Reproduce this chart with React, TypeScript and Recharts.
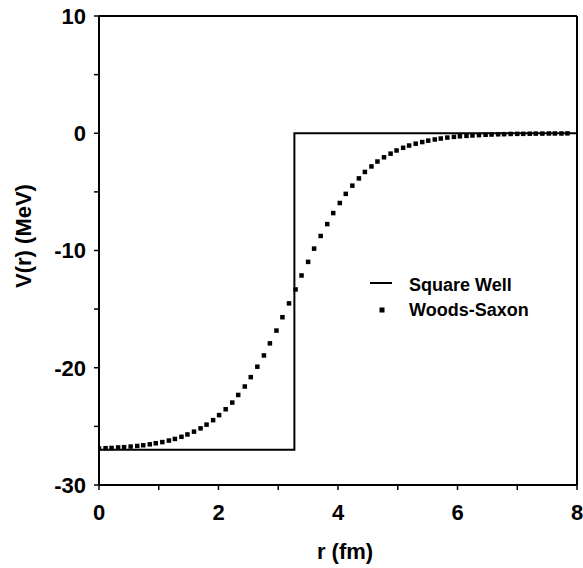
import { ComposedChart, Line, XAxis, YAxis, ReferenceLine, Legend, Label } from "recharts";

// square well: depth and radius
const wellR = [0, 3.27, 3.27, 8];
const wellV = [-27, -27, 0, 0];

// Woods-Saxon points
const wsR = [
  0, 0.11, 0.21, 0.32, 0.42, 0.53, 0.64, 0.74, 0.85, 0.95,
  1.06, 1.17, 1.27, 1.38, 1.48, 1.59, 1.7, 1.8, 1.91, 2.01,
  2.12, 2.23, 2.33, 2.44, 2.54, 2.65, 2.76, 2.86, 2.97, 3.07,
  3.18, 3.29, 3.39, 3.5, 3.6, 3.71, 3.82, 3.92, 4.03, 4.13,
  4.24, 4.35, 4.45, 4.56, 4.66, 4.77, 4.88, 4.98, 5.09, 5.19,
  5.3, 5.41, 5.51, 5.62, 5.72, 5.83, 5.94, 6.04, 6.15, 6.25,
  6.36, 6.47, 6.57, 6.68, 6.78, 6.89, 7.0, 7.1, 7.21, 7.31,
  7.42, 7.53, 7.63, 7.74, 7.84,
];
const wsV = [
  -26.88, -26.86, -26.84, -26.8, -26.77, -26.72, -26.67, -26.61, -26.53, -26.44,
  -26.34, -26.21, -26.07, -25.89, -25.69, -25.45, -25.17, -24.85, -24.47, -24.04,
  -23.54, -22.97, -22.32, -21.6, -20.8, -19.91, -18.95, -17.92, -16.83, -15.69,
  -14.51, -13.32, -12.13, -10.97, -9.84, -8.76, -7.75, -6.81, -5.95, -5.17,
  -4.47, -3.85, -3.3, -2.83, -2.41, -2.05, -1.74, -1.47, -1.24, -1.05,
  -0.89, -0.75, -0.63, -0.53, -0.45, -0.37, -0.31, -0.26, -0.22, -0.19,
  -0.16, -0.13, -0.11, -0.09, -0.08, -0.06, -0.05, -0.05, -0.04, -0.03,
  -0.03, -0.02, -0.02, -0.02, -0.01,
];

const xTicks = [0, 1, 2, 3, 4, 5, 6, 7, 8];
const yTicks = [-30, -25, -20, -15, -10, -5, 0, 5, 10];

const wellData = wellR.map((r, i) => ({ r, v: wellV[i] }));
const wsData = wsR.map((r, i) => ({ r, v: wsV[i] }));

const FONT = "'Liberation Sans', Arial, Helvetica, sans-serif";
const tickStyle = { fill: "#000", fontSize: 22, fontWeight: 700, fontFamily: FONT };

const SquareDot = (p: any) => (
  <rect key={`ws-${p.index}`} x={p.cx - 2.25} y={p.cy - 2.25} width={4.5} height={4.5} fill="#000" />
);

const LegendBox = () => (
  <svg width={180} height={52} style={{ display: "block" }}>
    <line x1={2} y1={12} x2={24} y2={12} stroke="#000" strokeWidth={2} />
    <text x={41} y={20} fontSize={18} fontWeight={700} fontFamily={FONT} fill="#000">
      Square Well
    </text>
    <rect x={11.5} y={36.5} width={5} height={5} fill="#000" />
    <text x={41} y={45} fontSize={18} fontWeight={700} fontFamily={FONT} fill="#000">
      Woods-Saxon
    </text>
  </svg>
);

export default function App() {
  return (
    <div style={{ position: "absolute", left: 0, top: 0, background: "#fff" }}>
      <ComposedChart width={583} height={568} margin={{ top: 16, right: 6, bottom: 0, left: 0 }}>
        <XAxis
          type="number"
          dataKey="r"
          domain={[0, 8]}
          ticks={xTicks}
          tickFormatter={(v: number) => (v % 2 === 0 ? String(v) : "")}
          height={83}
          tick={tickStyle}
          tickSize={5}
          tickMargin={14}
          axisLine={{ stroke: "#000", strokeWidth: 2 }}
          tickLine={{ stroke: "#000", strokeWidth: 1.5 }}
          allowDataOverflow
        >
          <Label
            content={() => (
              <text x={345} y={559} textAnchor="middle" fontSize={22} fontWeight={700} fontFamily={FONT} fill="#000">
                r (fm)
              </text>
            )}
          />
        </XAxis>
        <YAxis
          type="number"
          domain={[-30, 10]}
          ticks={yTicks}
          tickFormatter={(v: number) => (v % 10 === 0 ? String(v) : "")}
          width={99}
          tick={tickStyle}
          tickSize={5}
          tickMargin={8}
          axisLine={{ stroke: "#000", strokeWidth: 2 }}
          tickLine={{ stroke: "#000", strokeWidth: 1.5 }}
          allowDataOverflow
        >
          <Label
            content={() => (
              <text
                x={23}
                y={236}
                transform="rotate(-90 23 236)"
                textAnchor="middle"
                dominantBaseline="central"
                fontSize={22}
                fontWeight={700}
                fontFamily={FONT}
                fill="#000"
              >
                V(r) (MeV)
              </text>
            )}
          />
        </YAxis>
        <ReferenceLine y={10} stroke="#000" strokeWidth={2} />
        <ReferenceLine x={8} stroke="#000" strokeWidth={2} />
        <Line
          data={wellData}
          dataKey="v"
          type="linear"
          stroke="#000"
          strokeWidth={2}
          dot={false}
          activeDot={false}
          isAnimationActive={false}
        />
        <Line
          data={wsData}
          dataKey="v"
          type="linear"
          stroke="none"
          dot={SquareDot}
          activeDot={false}
          isAnimationActive={false}
        />
        <Legend
          layout="horizontal"
          verticalAlign="middle"
          align="center"
          content={() => <LegendBox />}
          wrapperStyle={{ left: 368, top: 271, width: 180, height: 52 }}
        />
      </ComposedChart>
    </div>
  );
}
